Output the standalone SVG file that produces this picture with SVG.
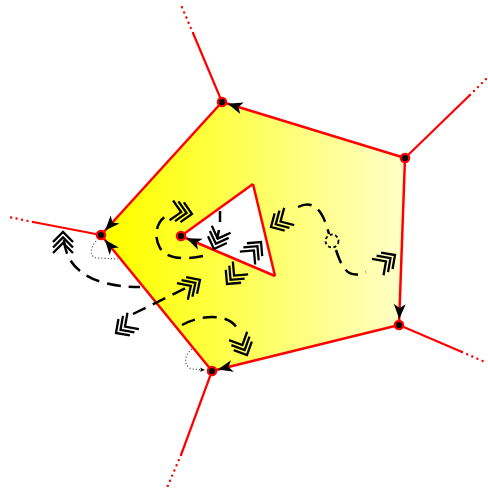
<svg xmlns="http://www.w3.org/2000/svg" xmlns:xlink="http://www.w3.org/1999/xlink" width="488" height="495" viewBox="0 0 488 495">
<style>
.edge{stroke:#ff0000;stroke-width:2.5;fill:none}
.ray{stroke:#ff0000;stroke-width:2.2;fill:none}
.raydot{stroke:#ff0000;stroke-width:2.4;fill:none;stroke-linecap:round;stroke-dasharray:0 5.6}
.node{fill:#000;stroke:#ff0000;stroke-width:2.2}
.dash{stroke:#000;stroke-width:2.5;fill:none;stroke-dasharray:14 8}
.dot{stroke:#333;stroke-width:1.1;fill:none;stroke-dasharray:1 2.2}
.chev{stroke:#000;stroke-width:2.3;fill:none}
</style>
<defs>
<linearGradient id="g" gradientUnits="userSpaceOnUse" x1="120" y1="0" x2="410" y2="0">
<stop offset="0" stop-color="#ffff00"/>
<stop offset="1" stop-color="#ffffcc"/>
</linearGradient>
<marker id="arr" markerUnits="userSpaceOnUse" refX="6" refY="0" markerWidth="20" markerHeight="20" orient="auto" overflow="visible">
<path d="M0,0 L-15,-6 L-11,0 L-15,6 Z" fill="#000"/>
</marker>
<marker id="arrs" markerUnits="userSpaceOnUse" refX="0" refY="0" markerWidth="8" markerHeight="8" orient="auto" overflow="visible">
<path d="M0,0 L-5,-2.2 L-4,0 L-5,2.2 Z" fill="#000"/>
</marker>
<path id="chev" class="chev" d="M-10,-10 L0,0 L-10,10 M-15.5,-10 L-5.5,0 L-15.5,10 M-21,-10 L-11,0 L-21,10"/>
</defs>

<!-- face -->
<path id="face" d="M222,102 L405,158 L399,325 L212,371 L101,235 Z M181,236 L253,184 L275,276 Z" fill="url(#g)" fill-rule="evenodd" stroke="none"/>

<g id="connectors">
<!-- rays -->
<line class="ray" x1="222" y1="102" x2="193" y2="33"/>
<line class="raydot" x1="193" y1="33" x2="181" y2="5"/>
<line class="ray" x1="405" y1="158" x2="470" y2="95"/>
<line class="raydot" x1="470" y1="95" x2="486" y2="79"/>
<line class="ray" x1="399" y1="325" x2="462" y2="352"/>
<line class="raydot" x1="462" y1="352" x2="485" y2="362"/>
<line class="ray" x1="212" y1="371" x2="181" y2="455"/>
<line class="raydot" x1="181" y1="455" x2="166" y2="490"/>
<line class="ray" x1="101" y1="235" x2="33" y2="222"/>
<line class="raydot" x1="33" y1="222" x2="9" y2="217"/>
<!-- outer edges -->
<line class="edge" x1="405" y1="158" x2="222" y2="102" marker-end="url(#arr)"/>
<line class="edge" x1="222" y1="102" x2="101" y2="235" marker-end="url(#arr)"/>
<line class="edge" x1="212" y1="371" x2="101" y2="235" marker-end="url(#arr)"/>
<line class="edge" x1="405" y1="158" x2="399" y2="325" marker-end="url(#arr)"/>
<line class="edge" x1="399" y1="325" x2="212" y2="371" marker-end="url(#arr)"/>
<!-- inner triangle edges -->
<line class="edge" x1="181" y1="236" x2="253" y2="184"/>
<line class="edge" x1="253" y1="184" x2="275" y2="276"/>
<line class="edge" x1="275" y1="276" x2="181" y2="236" marker-end="url(#arr)"/>

<!-- dotted loops -->
<path class="dot" d="M96,241 C90,248 89,257 97,258 L118,259"/>
<path class="dot" d="M192,349 C184,355 183,366 192,369 L205,370" marker-end="url(#arrs)"/>

<!-- dashed half-edge curves -->
<path class="dash" d="M203,256 C190,259 168,261 160,248 C152,234 158,218 170,214"/>
<path class="dash" stroke-dasharray="5 30" d="M220,211 L220,222"/>
<line class="dash" x1="217" y1="239" x2="219" y2="230" stroke-dasharray="none"/>
<path class="dash" d="M298,207 C316,198 324,215 329,234"/>
<circle cx="332" cy="241" r="6.5" fill="none" stroke="#000" stroke-width="1.8" stroke-dasharray="3 2.5"/>
<path class="dash" d="M336,250 C342,268 348,280 366,272"/>
<path class="dash" stroke-dasharray="30 8 18 6 16 8" d="M64,240 C66,268 90,287 140,287"/>
<path class="dash" d="M133,314 L190,286"/>
<path class="dash" stroke-dasharray="7 7 15 8 15 5" d="M182,325 C200,315 230,312 238,330"/>

<!-- chevrons -->
<use xlink:href="#chev" transform="translate(192,214) rotate(10)"/>
<use xlink:href="#chev" transform="translate(214,249) rotate(110)"/>
<use xlink:href="#chev" transform="translate(261,242) rotate(-50)"/>
<use xlink:href="#chev" transform="translate(227,284) rotate(130)"/>
<use xlink:href="#chev" transform="translate(271,227) rotate(150)"/>
<use xlink:href="#chev" transform="translate(395,255) rotate(-35)"/>
<use xlink:href="#chev" transform="translate(63,232) rotate(-90)"/>
<use xlink:href="#chev" transform="translate(116,333) rotate(145)"/>
<use xlink:href="#chev" transform="translate(200,280) rotate(-33)"/>
<use xlink:href="#chev" transform="translate(247,355) rotate(65)"/>
</g>

<g id="node-A"><circle class="node" cx="222" cy="102" r="4.2"/></g>
<g id="node-B"><circle class="node" cx="405" cy="158" r="4.2"/></g>
<g id="node-C"><circle class="node" cx="399" cy="325" r="4.2"/></g>
<g id="node-D"><circle class="node" cx="212" cy="371" r="4.2"/></g>
<g id="node-E"><circle class="node" cx="101" cy="235" r="4.2"/></g>
<g id="node-F"><circle class="node" cx="181" cy="236" r="4.2"/></g>
</svg>
